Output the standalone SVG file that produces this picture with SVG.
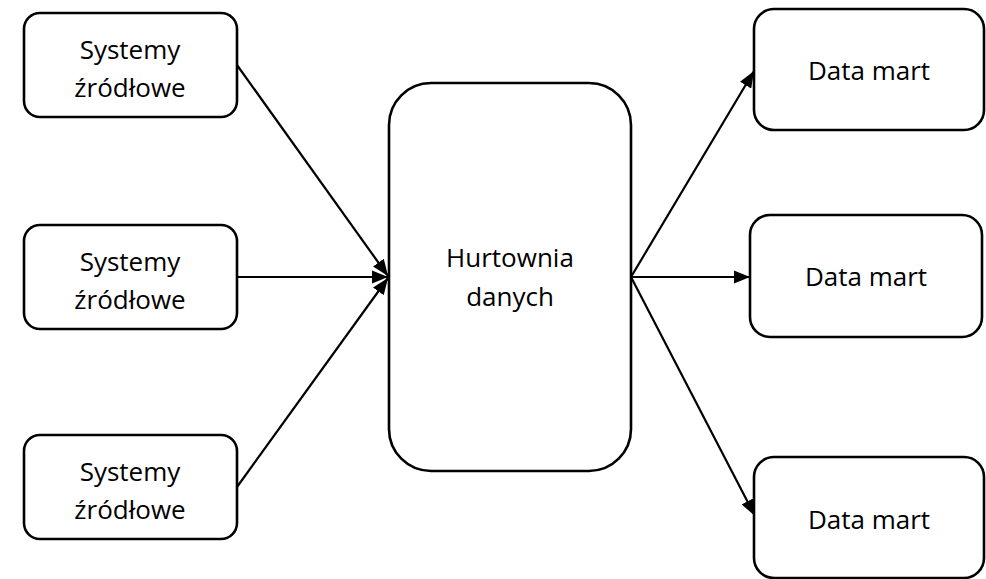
<svg xmlns="http://www.w3.org/2000/svg" width="986" height="579" viewBox="0 0 986 579">
<style>
.box{fill:#fff;stroke:#000;stroke-width:2.6}
.lbl{font-family:"Open Sans","Liberation Sans",sans-serif;font-size:26px;fill:#000;text-anchor:middle}
.edge{stroke:#000;stroke-width:2.2;fill:none;marker-end:url(#ah)}
</style>
<defs>
<marker id="ah" viewBox="0 0 10 10" refX="10" refY="5" markerWidth="7.5" markerHeight="6" markerUnits="strokeWidth" orient="auto" preserveAspectRatio="none">
<path d="M0,0 L10,5 L0,10 z" fill="#000"/>
</marker>
</defs>
<rect width="986" height="579" fill="#fff"/>
<g id="connectors">
<line class="edge" x1="237" y1="65" x2="388" y2="276"/>
<line class="edge" x1="237" y1="277" x2="388" y2="277"/>
<line class="edge" x1="237" y1="487" x2="388" y2="278"/>
<line class="edge" x1="631" y1="277" x2="754" y2="71"/>
<line class="edge" x1="631" y1="277" x2="750" y2="277"/>
<line class="edge" x1="631" y1="277" x2="755" y2="516"/>
</g>
<g id="src1"><rect class="box" x="24" y="13" width="213" height="104" rx="16"/><text class="lbl" x="130" y="59">Systemy</text><text class="lbl" x="130" y="97">źródłowe</text></g>
<g id="src2"><rect class="box" x="24" y="225" width="213" height="104" rx="16"/><text class="lbl" x="130" y="271">Systemy</text><text class="lbl" x="130" y="309">źródłowe</text></g>
<g id="src3"><rect class="box" x="24" y="435" width="213" height="104" rx="16"/><text class="lbl" x="130" y="481">Systemy</text><text class="lbl" x="130" y="519">źródłowe</text></g>
<g id="dwh"><rect class="box" x="389" y="83" width="242" height="388" rx="42"/><text class="lbl" x="510" y="267">Hurtownia</text><text class="lbl" x="510" y="306">danych</text></g>
<g id="dm1"><rect class="box" x="754" y="9" width="230" height="121" rx="20"/><text class="lbl" x="869" y="80">Data mart</text></g>
<g id="dm2"><rect class="box" x="750" y="215" width="232" height="122" rx="20"/><text class="lbl" x="866" y="286">Data mart</text></g>
<g id="dm3"><rect class="box" x="754" y="457" width="230" height="121" rx="20"/><text class="lbl" x="869" y="529">Data mart</text></g>
</svg>
